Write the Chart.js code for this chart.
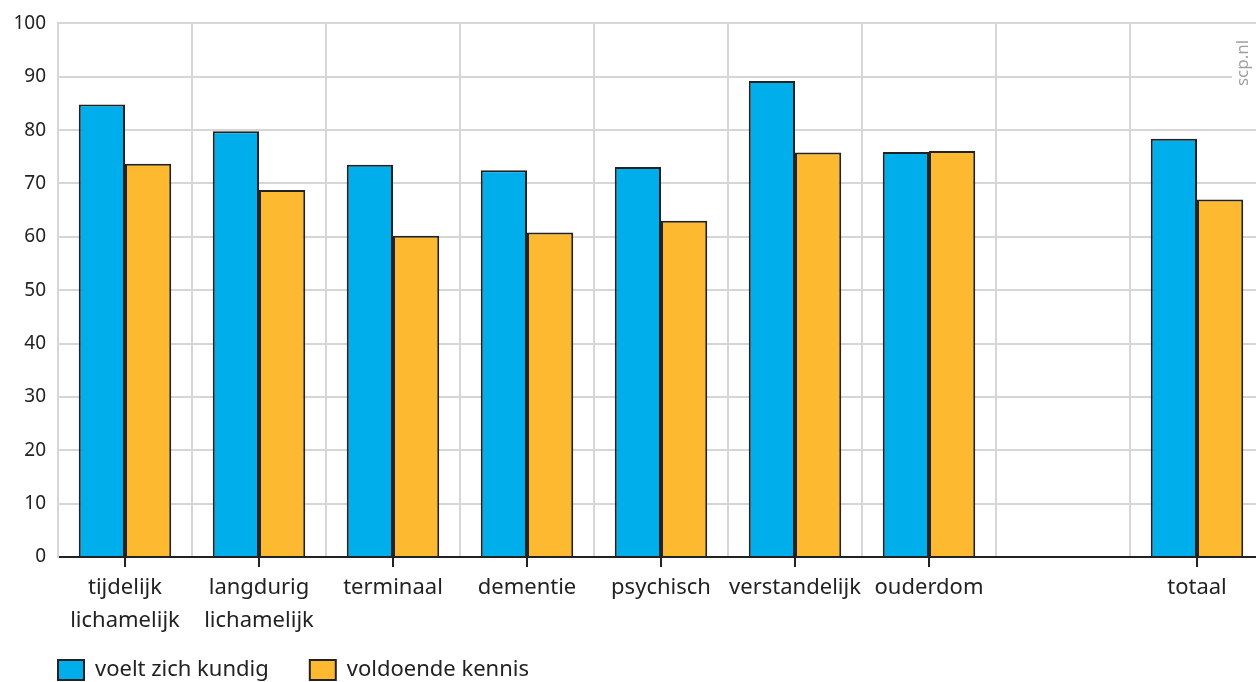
<!DOCTYPE html>
<html lang="nl">
<head>
<meta charset="utf-8"/>
<title>Kundigheid en kennis</title>
<script src="https://cdn.jsdelivr.net/npm/chart.js"></script>
<style>
  html, body { margin: 0; padding: 0; background: #fff; overflow: hidden; }
  #wrap { width: 1256px; height: 682px; overflow: hidden; }
</style>
</head>
<body>
<div id="wrap"><canvas id="grafiek" width="1264" height="682"></canvas></div>
<script>
  // gegevens
  const categorieen = [['tijdelijk', 'lichamelijk'], ['langdurig', 'lichamelijk'], 'terminaal', 'dementie', 'psychisch', 'verstandelijk', 'ouderdom', '', 'totaal'];
  const kundig = [84.8, 79.8, 73.5, 72.5, 73.1, 89.2, 75.9, null, 78.4];
  const kennis = [73.7, 68.8, 60.2, 60.8, 63.0, 75.8, 76.1, null, 67.0];
  const reeksNamen = ['voelt zich kundig', 'voldoende kennis'];
  const yTicks = [0, 10, 20, 30, 40, 50, 60, 70, 80, 90, 100];

  const FONT = '"Noto Sans", Arial, sans-serif';
  const GRID = '#d6d6d6';
  const TEKST = '#222';
  const ONDER = 557;

  // legenda en watermerk op hun plek zetten
  const extra = {
    id: 'extra',
    afterLayout(chart) {
      const lg = chart.legend;
      const p = lg.options.labels.padding;
      lg.left = chart.chartArea.left - p;
      lg.top = 659 - p;
      // labels van de x-as niet afknippen
      chart.scales.x.bottom = chart.height;
    },
    afterDraw(chart) {
      const ctx = chart.ctx;
      ctx.save();
      ctx.fillStyle = '#fff';
      ctx.fillRect(1232, 36, 24, 54);
      ctx.translate(1243, 63);
      ctx.rotate(-Math.PI / 2);
      ctx.font = '17px ' + FONT;
      ctx.fillStyle = '#a0a0a0';
      ctx.textAlign = 'center';
      ctx.textBaseline = 'middle';
      ctx.fillText('scp.nl', 0, 0);
      ctx.restore();
    }
  };

  new Chart(document.getElementById('grafiek'), {
    type: 'bar',
    data: {
      labels: categorieen,
      datasets: [{
        label: reeksNamen[0],
        data: kundig,
        backgroundColor: '#00aeec',
        borderColor: '#222',
        borderWidth: 2
      }, {
        label: reeksNamen[1],
        data: kennis,
        backgroundColor: '#fdba30',
        borderColor: '#222',
        borderWidth: 2
      }]
    },
    options: {
      responsive: false,
      animation: false,
      categoryPercentage: 0.69,
      barPercentage: 1.0,
      layout: { padding: { top: 22, right: 0, left: 0, bottom: 0 } },
      plugins: {
        tooltip: { enabled: false },
        legend: {
          position: 'bottom',
          align: 'start',
          labels: {
            boxWidth: 26,
            boxHeight: 20,
            padding: 41,
            color: TEKST,
            font: { family: FONT, size: 22 }
          }
        }
      },
      scales: {
        x: {
          grid: {
            offset: false,
            drawOnChartArea: false,
            drawTicks: true,
            tickLength: 10,
            color: c => (categorieen[c.index] === '' ? 'rgba(0,0,0,0)' : '#222'),
            lineWidth: 2
          },
          border: { color: '#222', width: 2 },
          ticks: { color: TEKST, padding: 4, maxRotation: 0, autoSkip: false, font: { family: FONT, size: 22, lineHeight: 1.5 } },
          afterFit(s) { s.height = s.chart.height - s.chart.legend.height - ONDER; }
        },
        x2: {
          type: 'category',
          labels: categorieen,
          position: 'bottom',
          offset: true,
          grid: { offset: true, drawTicks: false, color: GRID, lineWidth: 2 },
          border: { display: false },
          ticks: { display: false },
          afterFit(s) { s.height = 0; }
        },
        y: {
          min: 0,
          max: 100,
          afterBuildTicks(s) { s.ticks = yTicks.map(v => ({ value: v })); },
          grid: { drawTicks: false, color: GRID, lineWidth: 2 },
          border: { color: GRID, width: 2 },
          ticks: { color: TEKST, padding: 12, font: { family: FONT, size: 19 } },
          afterFit(s) { s.width = 58; }
        }
      }
    },
    plugins: [extra]
  });
</script>
</body>
</html>
